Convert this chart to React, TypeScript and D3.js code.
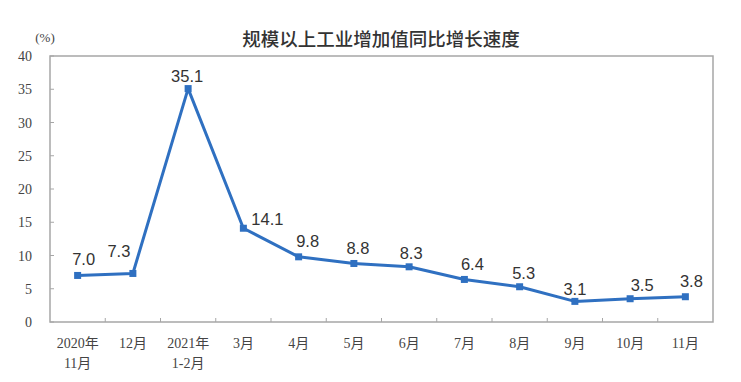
import React from "react";
import * as d3 from "d3";

const categories = ["2020年\n11月", "12月", "2021年\n1-2月", "3月", "4月", "5月", "6月", "7月", "8月", "9月", "10月", "11月"];
const values = [7.0, 7.3, 35.1, 14.1, 9.8, 8.8, 8.3, 6.4, 5.3, 3.1, 3.5, 3.8];
const yTicks = [0, 5, 10, 15, 20, 25, 30, 35, 40];
// label offsets relative to point (style)
const labelDx = [6, -14, -1, 24, 9, 4, 2, 8, 4, 0, 12, 6];
const labelDy = [-10, -16, -7, -3, -10, -9, -8, -9, -8, -6, -8, -10];

const W = 741, H = 382;
const M = { left: 50, right: 28, top: 56, bottom: 60 };

export default function App() {
  const x = d3.scaleBand().domain(categories).range([M.left, W - M.right]).padding(0);
  const y = d3.scaleLinear().domain([0, 40]).range([H - M.bottom, M.top]);
  const cx = (c: string) => (x(c) as number) + x.bandwidth() / 2;
  const line = d3.line<number>().x((_, i) => cx(categories[i])).y((d) => y(d));
  const frame = "#a6a6a6";
  const blue = "#2f70c1";
  return (
    <svg width={W} height={H} style={{ position: "absolute", left: 0, top: 0, background: "#fff" }}>
      <text x={381} y={46} textAnchor="middle" fontFamily="'Noto Sans CJK SC', sans-serif" fontWeight={500} fontSize={18.5} fill="#333">
        规模以上工业增加值同比增长速度
      </text>
      <text x={45} y={42} textAnchor="middle" fontFamily="'Liberation Serif', serif" fontSize={13} fill="#444">(%)</text>
      <rect x={M.left} y={M.top} width={W - M.left - M.right} height={H - M.top - M.bottom} fill="none" stroke={frame} strokeWidth={1.5} />
      {yTicks.map((t) => (
        <g key={t}>
          <line x1={M.left} x2={M.left + 4} y1={y(t)} y2={y(t)} stroke={frame} />
          <text x={32} y={y(t) + 5} textAnchor="end" fontFamily="'Liberation Serif', serif" fontSize={14} fill="#444">{t}</text>
        </g>
      ))}
      {categories.map((c, i) => (
        <g key={c}>
          {i > 0 && <line x1={x(c)} x2={x(c)} y1={H - M.bottom} y2={H - M.bottom - 4} stroke={frame} />}
          {c.split("\n").map((s, j) => (
            <text key={j} x={cx(c)} y={348 + j * 20} textAnchor="middle" fontFamily="'Liberation Serif', 'Noto Sans CJK SC', serif" fontSize={14} fill="#444">{s}</text>
          ))}
        </g>
      ))}
      <path d={line(values) || ""} fill="none" stroke={blue} strokeWidth={3} strokeLinejoin="round" />
      {values.map((v, i) => (
        <rect key={i} x={cx(categories[i]) - 3.5} y={y(v) - 3.5} width={7} height={7} fill={blue} />
      ))}
      {values.map((v, i) => (
        <text key={i} x={cx(categories[i]) + labelDx[i]} y={y(v) + labelDy[i]} textAnchor="middle" fontFamily="'Liberation Sans', Arial, sans-serif" fontSize={16.5} fill="#333">{v.toFixed(1)}</text>
      ))}
    </svg>
  );
}
